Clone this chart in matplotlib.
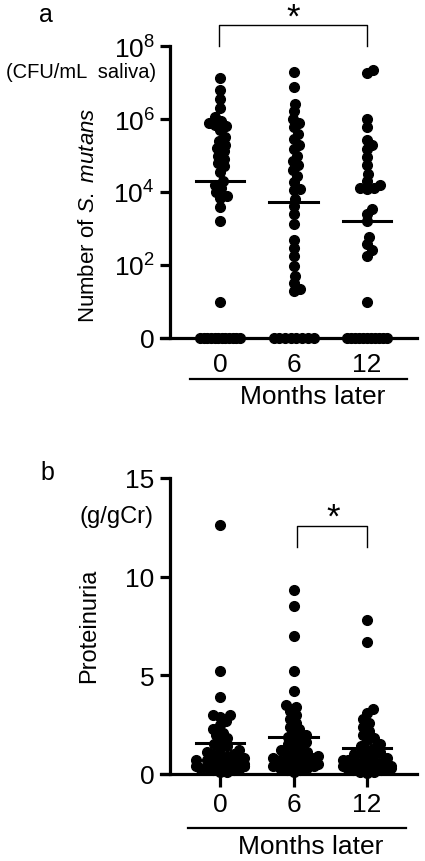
import numpy as np
from matplotlib import pyplot as plt

plt.rcParams['font.family'] = ['Liberation Sans', 'DejaVu Sans']
plt.rcParams['mathtext.fontset'] = 'custom'
plt.rcParams['mathtext.rm'] = 'Liberation Sans'
plt.rcParams['mathtext.it'] = 'Liberation Sans:italic'

months = ['0', '6', '12']

# S. mutans, CFU/mL saliva
smut_0 = [1.3e7, 6.3e6, 3.5e6, 2.0e6, 1.1e6, 9.0e5, 8.0e5, 7.0e5, 6.3e5, 5.0e5,
          3.2e5, 2.5e5, 2.0e5, 1.6e5, 1.3e5, 1.0e5, 8.0e4, 6.3e4, 5.0e4, 3.5e4,
          2.0e4, 1.6e4, 1.3e4, 1.0e4, 8.0e3, 7.0e3, 4.0e3, 1.6e3, 10,
          0, 0, 0, 0, 0, 0, 0, 0, 0, 0, 0, 0]
smut_6 = [2.0e7, 7.4e6, 2.6e6, 1.7e6, 1.0e6, 8.0e5, 5.9e5, 4.0e5, 2.8e5, 2.0e5,
          1.5e5, 1.0e5, 7.2e4, 5.4e4, 4.0e4, 2.8e4, 1.9e4, 1.2e4, 1.1e4, 6.5e3,
          4.2e3, 2.5e3, 1.3e3, 470, 300, 180, 95, 51, 33, 22, 20,
          0, 0, 0, 0, 0, 0, 0, 0]
smut_12 = [2.2e7, 1.8e7, 1.0e6, 5.9e5, 2.6e5, 2.0e5, 1.5e5, 8.9e4, 5.4e4, 3.1e4,
           2.0e4, 1.6e4, 1.3e4, 1.25e4, 1.2e4, 3.4e3, 2.5e3, 1.6e3, 580, 380,
           250, 180, 10,
           0, 0, 0, 0, 0, 0, 0, 0, 0, 0, 0]
smut_med = [2.0e4, 5.3e3, 1.6e3]

# proteinuria, g/gCr
prot_0 = [12.6, 5.2, 3.9, 3.0, 3.0, 2.9, 2.7, 2.5, 2.3, 2.1, 2.0, 1.8, 1.7, 1.5,
          1.4, 1.3, 1.2, 1.1, 1.0, 1.0, 0.9, 0.9, 0.8, 0.8, 0.7, 0.7, 0.6, 0.6,
          0.5, 0.5, 0.5, 0.4, 0.4, 0.4, 0.3, 0.3, 0.3, 0.2, 0.2, 0.1, 0.1]
prot_6 = [9.3, 8.5, 7.0, 5.2, 4.2, 3.5, 3.4, 3.2, 3.0, 2.8, 2.6, 2.4, 2.3, 2.1,
          2.0, 1.9, 1.8, 1.7, 1.6, 1.5, 1.4, 1.3, 1.2, 1.1, 1.0, 1.0, 0.9, 0.9,
          0.8, 0.8, 0.7, 0.7, 0.6, 0.6, 0.5, 0.5, 0.4, 0.4, 0.3, 0.3, 0.2, 0.2, 0.1]
prot_12 = [7.8, 6.7, 3.3, 3.1, 2.8, 2.6, 2.4, 2.2, 2.0, 1.8, 1.7, 1.5, 1.4, 1.3,
           1.2, 1.1, 1.0, 1.0, 0.9, 0.8, 0.8, 0.7, 0.7, 0.6, 0.6, 0.5, 0.5, 0.4,
           0.4, 0.4, 0.3, 0.3, 0.3, 0.2, 0.2, 0.1, 0.1, 0.05]
prot_med = [1.57, 1.9, 1.32]

W, H = 425, 862
fig = plt.figure(figsize=(W/100, H/100), dpi=100)


def fx(px):
    return px / W


def fy(py):
    return 1 - py / H


def swarm(ax, xc, vals, d=7.0, half=24.0, ms=7):
    vals = np.asarray(vals, dtype=float)
    pts = ax.transData.transform(np.column_stack([np.full(len(vals), xc), vals]))
    x0 = pts[0, 0]
    ypix = pts[:, 1]
    offs = np.zeros(len(vals))
    zeros = np.where(vals <= 0)[0]
    if len(zeros):
        offs[zeros] = np.linspace(-20, 20, len(zeros))
    placed = []
    for i in np.argsort(ypix):
        if vals[i] <= 0:
            continue
        y = ypix[i]
        cands = [0.0]
        for px, py in placed:
            dy = y - py
            if abs(dy) < d:
                dx = np.sqrt(d*d - dy*dy)
                cands += [px + dx, px - dx]
        cands.sort(key=abs)
        best = cands[-1]
        for c in cands:
            if all((c-px)**2 + (y-py)**2 >= d*d - 1e-6 for px, py in placed):
                best = c
                break
        best = float(np.clip(best, -half, half))
        offs[i] = best
        placed.append((best, y))
    xy = ax.transData.inverted().transform(np.column_stack([x0 + offs, ypix]))
    ax.plot(xy[:, 0], vals, 'o', color='black', markersize=ms, clip_on=False, zorder=3)


def style(ax):
    for s in ['top', 'right']:
        ax.spines[s].set_visible(False)
    ax.spines['left'].set_linewidth(2.3)
    ax.spines['bottom'].set_linewidth(2.3)
    ax.spines['bottom'].set_bounds(-0.68 - 9/73.3, 2.68)
    ax.set_xlim(-0.68, 2.68)
    ax.tick_params(axis='y', length=7, width=2.3, labelsize=19, pad=4)
    ax.set_xticks([0, 1, 2])
    ax.set_xticklabels(months)


def fwd(v):
    return np.log10(np.maximum(v, 1))


def inv(v):
    return 10.0**v


# ---- panel a
axa = fig.add_axes([fx(170), fy(339), fx(417) - fx(170), fy(47) - fy(339)])
axa.set_yscale('function', functions=(fwd, inv))
axa.set_ylim(0, 1e8)
axa.set_yticks([0, 1e2, 1e4, 1e6, 1e8])
axa.set_yticklabels(['0', '10$^2$', '10$^4$', '10$^6$', '10$^8$'])
style(axa)
axa.tick_params(axis='x', length=0, labelsize=19, pad=10)
for i, g in enumerate([smut_0, smut_6, smut_12]):
    swarm(axa, i, g, half=14)
    axa.plot([i - 0.33, i + 0.33], [smut_med[i]] * 2, color='black', lw=2.2, zorder=4)

# ---- panel b
axb = fig.add_axes([fx(170), fy(775), fx(417) - fx(170), fy(479) - fy(775)])
axb.set_ylim(0, 15)
axb.set_yticks([0, 5, 10, 15])
style(axb)
axb.tick_params(axis='x', length=9, width=2.3, labelsize=19, pad=4)
for i, g in enumerate([prot_0, prot_6, prot_12]):
    swarm(axb, i, g)
    axb.plot([i - 0.33, i + 0.33], [prot_med[i]] * 2, color='black', lw=2.2, zorder=4)

# ---- annotations in figure pixels
def line(xs, ys, lw=1.0):
    fig.add_artist(plt.Line2D([fx(x) for x in xs], [fy(y) for y in ys],
                              color='black', lw=lw))

line([219, 219, 367, 367], [47, 26, 26, 47])
fig.text(fx(293), fy(18), '*', ha='center', va='center', fontsize=25)
line([297, 297, 367, 367], [548, 527, 527, 548])
fig.text(fx(333), fy(518), '*', ha='center', va='center', fontsize=25)

line([190, 407], [380, 380], lw=1.6)
fig.text(fx(313), fy(397), 'Months later', ha='center', va='center', fontsize=19)
line([188, 406], [829, 829], lw=1.6)
fig.text(fx(311), fy(847), 'Months later', ha='center', va='center', fontsize=19)

fig.text(fx(46), fy(15), 'a', ha='center', va='center', fontsize=18)
fig.text(fx(47), fy(473), 'b', ha='center', va='center', fontsize=18)
fig.text(fx(81), fy(72), '(CFU/mL  saliva)', ha='center', va='center', fontsize=14.5)
fig.text(fx(117), fy(517), '(g/gCr)', ha='center', va='center', fontsize=17)
fig.text(fx(89), fy(215), 'Number of $\\it{S.\\ mutans}$', ha='center', va='center',
         rotation=90, fontsize=16)
fig.text(fx(89), fy(626), 'Proteinuria', ha='center', va='center', rotation=90, fontsize=17)

fig.savefig('out.png', dpi=100)
